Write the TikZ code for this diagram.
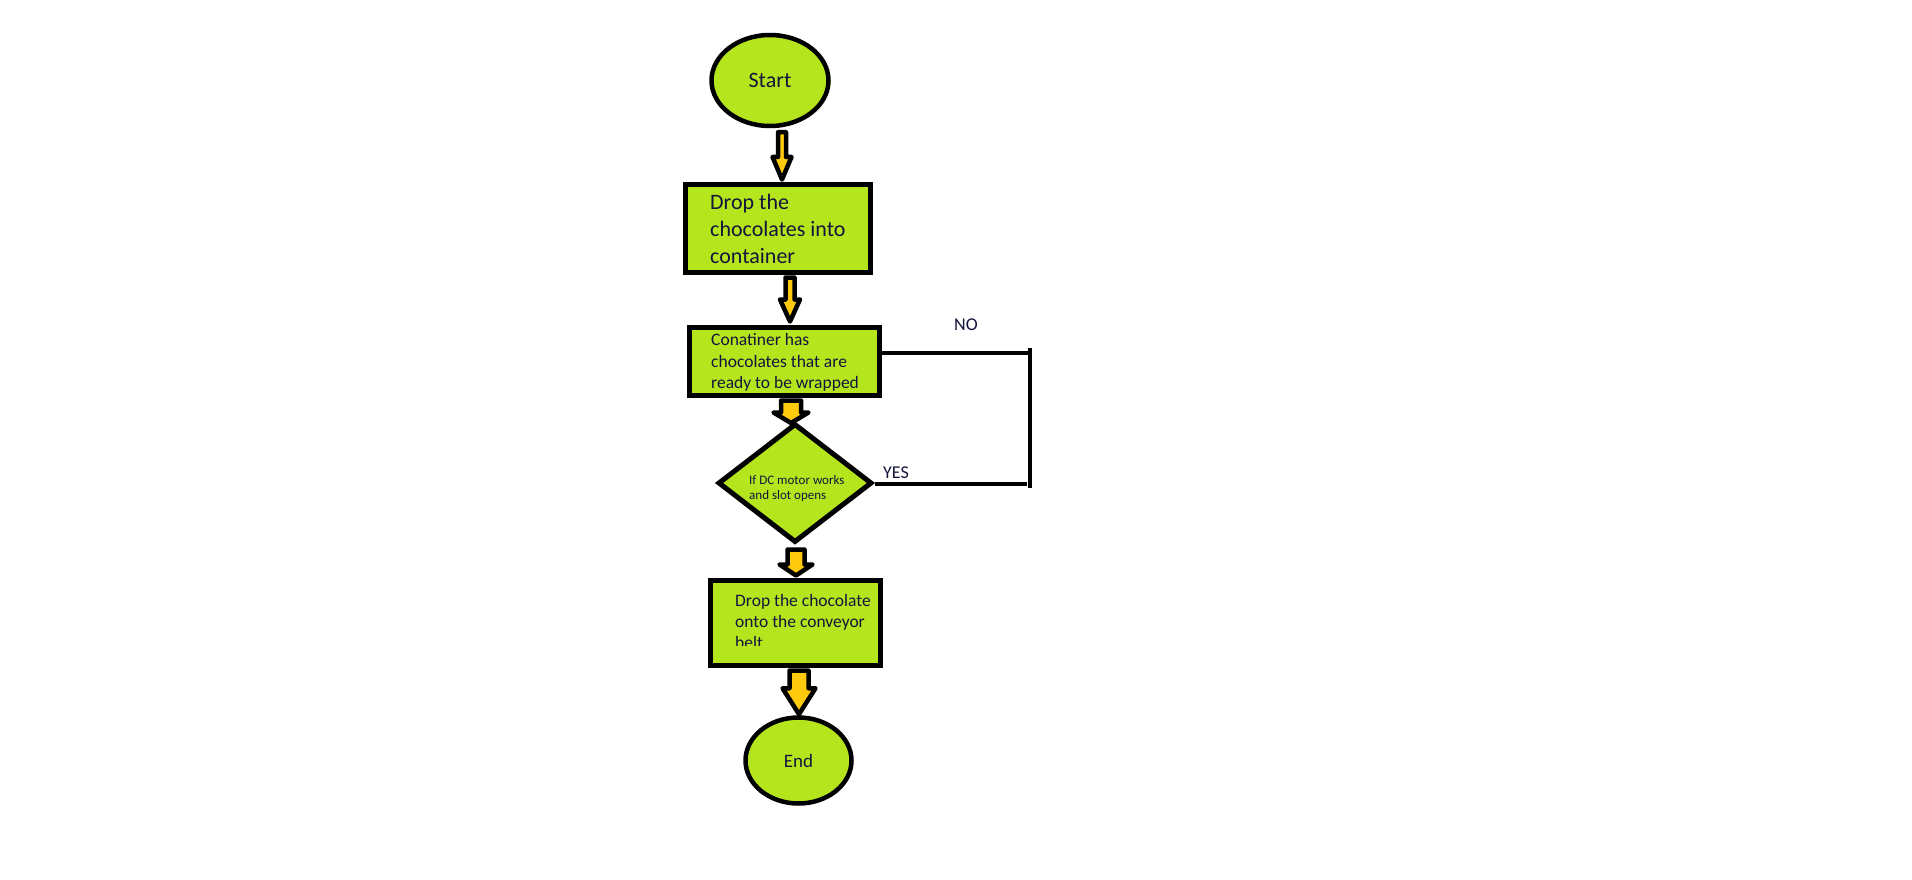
\documentclass[tikz,border=0pt]{standalone}
\usepackage{fontspec}
\setmainfont{Carlito}
\usetikzlibrary{shapes.geometric,calc}

\definecolor{chartlime}{RGB}{181,230,29}
\definecolor{chartgold}{RGB}{255,201,14}
\definecolor{inknavy}{RGB}{20,20,60}

% Block arrow: tail point, tip point, shaft half width, head half width, head length
\newcommand{\blockarrow}[5]{%
  \draw[flowarrow] let \p1=#1, \p2=#2 in
    (\x2-#3pt,\y1) -- (\x2+#3pt,\y1) -- (\x2+#3pt,\y2+#5pt) -- (\x2+#4pt,\y2+#5pt)
    -- (\x2,\y2) -- (\x2-#4pt,\y2+#5pt) -- (\x2-#3pt,\y2+#5pt) -- cycle;}

\begin{document}
\begin{tikzpicture}[x=1pt,y=-1pt,
  outline/.style={draw=black, fill=chartlime, line width=4.5pt},
  terminal/.style={outline, ellipse, inner sep=0pt, text=inknavy},
  process/.style={outline, rectangle, inner sep=0pt, line width=5pt},
  decision/.style={outline, diamond, inner sep=0pt, line width=5pt},
  txt/.style={text=inknavy, inner sep=0pt, align=left},
  flowarrow/.style={draw=black, fill=chartgold, line width=4.5pt, line join=round},
  branch/.style={draw=black, line width=4.5pt}]

\useasboundingbox (0,0) rectangle (1912,880);
\fill[white] (0,0) rectangle (1912,880);

% shapes
\node[terminal, minimum width=117pt, minimum height=91pt,
      font=\fontsize{22}{27}\selectfont] (start) at (770,80.5) {Start};
\node[process, minimum width=185pt, minimum height=88pt] (drop) at (778,228.5) {};
\node[process, minimum width=190pt, minimum height=68pt] (check) at (784.5,361.5) {};
\node[decision, minimum width=154pt, minimum height=119pt] (motor) at (795,483) {};
\node[process, minimum width=170pt, minimum height=85pt] (belt) at (795.5,623) {};
\node[terminal, minimum width=106pt, minimum height=86pt,
      font=\fontsize{19}{23}\selectfont] (stop) at (798.5,760.5) {End};

% texts inside the boxes (anchored on the baseline of their last line)
\node[txt, anchor=base west, font=\fontsize{22}{27}\selectfont] (droptext) at (710,263.5)
  {Drop the\\chocolates into\\container};
\node[txt, anchor=base west, font=\fontsize{17.5}{21.5}\selectfont] (checktext) at (711,388.5)
  {Conatiner has\\chocolates that are\\ready to be wrapped};
\node[txt, anchor=base west, font=\fontsize{13}{15}\selectfont] (motortext) at (749,499)
  {If DC motor works\\and slot opens};
\begin{scope}
  \clip (700,570) rectangle (890,645.5);
  \node[txt, anchor=base west, font=\fontsize{17.5}{21}\selectfont] (belttext) at (735,648)
    {Drop the chocolate\\onto the conveyor\\belt};
\end{scope}

% block arrows
\blockarrow{([shift={(12,4)}]start.south)}{([shift={(4,-2.5)}]drop.north)}{4}{9.5}{22.5}
\blockarrow{([shift={(12,2.5)}]drop.south)}{([shift={(5.5,-3.5)}]check.north)}{4.5}{10}{22}
\blockarrow{([shift={(6.5,2.5)}]check.south)}{([shift={(-4,2)}]motor.north)}{10}{17.5}{10.5}
\blockarrow{([shift={(1,4.5)}]motor.south)}{([shift={(0.5,-2.5)}]belt.north)}{8.5}{16.5}{11}
\blockarrow{([shift={(3.5,2.5)}]belt.south)}{([shift={(0.5,-1)}]stop.north)}{9.5}{16.5}{26}

% NO / YES branches
\coordinate (noend) at (1030,353);
\coordinate (yesend) at (1027,484);
\coordinate (railtop) at (1030,348);
\coordinate (railbot) at (1030,488);
\draw[branch] (check.east |- noend) -- (noend);
\draw[branch] (motor.east |- yesend) -- (yesend);
\draw[branch] (railtop) -- (railbot);
\node[txt, anchor=base west, font=\fontsize{18}{22}\selectfont] (nolabel) at (954,330) {NO};
\node[txt, anchor=base west, font=\fontsize{18}{22}\selectfont] (yeslabel) at (883,478) {YES};
\end{tikzpicture}
\end{document}
